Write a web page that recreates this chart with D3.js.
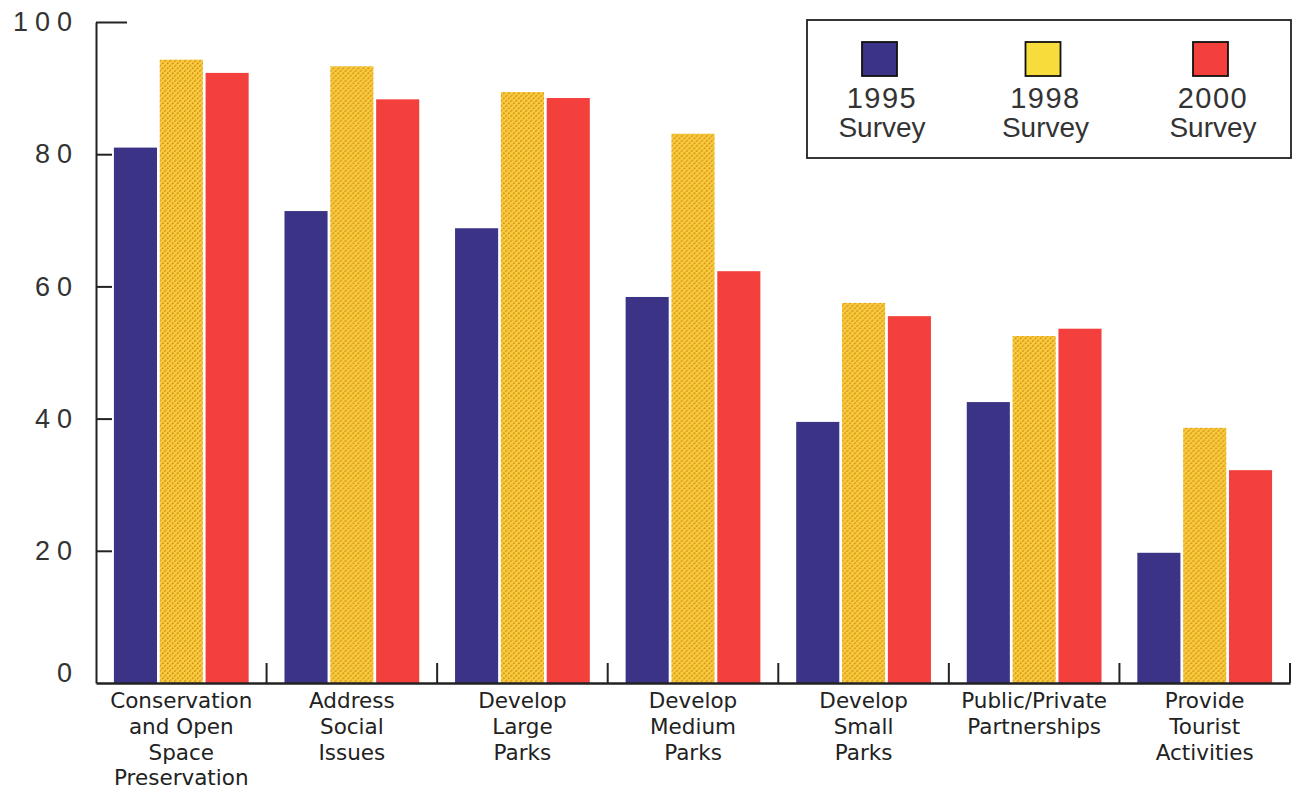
<!DOCTYPE html>
<html><head><meta charset="utf-8">
<script src="https://cdn.jsdelivr.net/npm/d3@7"></script>
<style>body{margin:0;background:#fff;overflow:hidden}</style>
</head><body><svg id="c" width="1299" height="791"></svg>
<script>
const categories = ["Conservation and Open Space Preservation","Address Social Issues","Develop Large Parks","Develop Medium Parks","Develop Small Parks","Public/Private Partnerships","Provide Tourist Activities"];
const categoryLines = [["Conservation","and Open","Space","Preservation"],["Address","Social","Issues"],["Develop","Large","Parks"],["Develop","Medium","Parks"],["Develop","Small","Parks"],["Public/Private","Partnerships"],["Provide","Tourist","Activities"]];
const seriesKeys = ["s1995","s1998","s2000"];
const seriesYears = ["1995","1998","2000"];
const seriesWord = "Survey";
const values1995 = [81,71.4,68.8,58.4,39.5,42.5,19.7];
const values1998 = [94.3,93.3,89.4,83.1,57.5,52.5,38.6];
const values2000 = [92.3,88.3,88.5,62.3,55.5,53.6,32.2];
const yTicks = [0,20,40,60,80,100];

const seriesValues = [values1995, values1998, values2000];
const svg = d3.select("#c");
const W = 1299, H = 791;
const m = {left:96, right:9, top:22, bottom:108};

const defs = svg.append("defs");
const pat = defs.append("pattern").attr("id","hatch").attr("patternUnits","userSpaceOnUse").attr("width",5).attr("height",5);
pat.append("rect").attr("width",5).attr("height",5).attr("fill","#f8cf3a");
pat.append("path").attr("d","M-1,6 L6,-1 M-1,1 L1,-1 M4,6 L6,4").attr("stroke","#d98a22").attr("stroke-width",1.5).attr("stroke-dasharray","1.8,1.2");

const fills = ["#3b3486","url(#hatch)","#f4403c"];
const legendFills = ["#3b3486","#f7dc3c","#f4403c"];

const x0 = d3.scaleBand().domain(categories).range([m.left, W - m.right]).padding(0);
const bw = x0.bandwidth();
const x1 = d3.scaleBand().domain(seriesKeys).range([bw*0.105, bw*0.895]).paddingInner(0.06).paddingOuter(0);
const y = d3.scaleLinear().domain([0,100]).range([H - m.bottom, m.top]);

// bars
const g = svg.append("g");
categories.forEach((c,i)=>{
  const gg = g.append("g").attr("transform",`translate(${x0(c)},0)`);
  gg.selectAll("rect").data(seriesKeys.map((k,j)=>({k, v:seriesValues[j][i], j})))
    .join("rect")
    .attr("x", d=>x1(d.k)).attr("width", x1.bandwidth())
    .attr("y", d=>y(d.v)).attr("height", d=>y(0)-y(d.v))
    .attr("fill", d=>fills[d.j]);
});

// y axis
const yAxis = d3.axisLeft(y).tickValues(yTicks.slice(1)).tickSizeInner(-16).tickSizeOuter(0).tickPadding(24);
const ya = svg.append("g").attr("transform",`translate(${m.left},0)`).call(yAxis);
ya.select(".domain").attr("stroke","#222").attr("stroke-width",2);
ya.selectAll(".tick line").attr("stroke","#222").attr("stroke-width",2)
  .attr("x2", d=> d===100 ? 31 : 16);
ya.selectAll(".tick text").attr("font-family","'Liberation Sans', Arial, sans-serif")
  .attr("font-size",27).attr("fill","#333").attr("letter-spacing",7).attr("dx",7);
// zero label
ya.append("text").attr("x",-24).attr("dx",7).attr("y",y(0)-10).attr("dy","0.32em")
  .attr("text-anchor","end").attr("font-family","'Liberation Sans', Arial, sans-serif")
  .attr("font-size",27).attr("fill","#333").attr("letter-spacing",7).text(yTicks[0]);

// x axis
const xAxis = d3.axisBottom(x0).tickSize(0).tickPadding(0).tickSizeOuter(0);
const xa = svg.append("g").attr("transform",`translate(0,${y(0)})`).call(xAxis);
xa.select(".domain").attr("stroke","#222").attr("stroke-width",2.5);
xa.selectAll(".tick text").each(function(d,i){
  const t = d3.select(this).text(null).attr("dy",null).attr("y",25)
    .attr("font-family","'DejaVu Sans', sans-serif").attr("font-size",21.5).attr("fill","#222");
  categoryLines[i].forEach((ln,k)=>{
    t.append("tspan").attr("x",0).attr("dy", k===0 ? 0 : 25.8).text(ln);
  });
});
// separator ticks
svg.append("g").selectAll("line").data(categories).join("line")
  .attr("x1", d=>x0(d)+bw).attr("x2", d=>x0(d)+bw)
  .attr("y1", y(0)).attr("y2", y(0)-20)
  .attr("stroke","#222").attr("stroke-width",2);

// legend
const lg = svg.append("g");
lg.append("rect").attr("x",807).attr("y",20).attr("width",484).attr("height",138)
  .attr("fill","#fff").attr("stroke","#222").attr("stroke-width",1.8);
const lx = d3.scalePoint().domain(seriesKeys).range([879,1210]);
seriesKeys.forEach((k,j)=>{
  const cx = lx(k) + (j===1 ? -2 : 0);
  lg.append("rect").attr("x",cx-17).attr("y",42).attr("width",35).attr("height",34)
    .attr("fill",legendFills[j]).attr("stroke","#111").attr("stroke-width",1.8);
  lg.append("text").attr("x",cx+3).attr("y",108).attr("text-anchor","middle")
    .attr("font-family","'Liberation Sans', Arial, sans-serif").attr("font-size",29)
    .attr("fill","#333").attr("letter-spacing",1.5).text(seriesYears[j]);
  lg.append("text").attr("x",cx+3).attr("y",137).attr("text-anchor","middle")
    .attr("font-family","'Liberation Sans', Arial, sans-serif").attr("font-size",28)
    .attr("fill","#333").text(seriesWord);
});
</script></body></html>
